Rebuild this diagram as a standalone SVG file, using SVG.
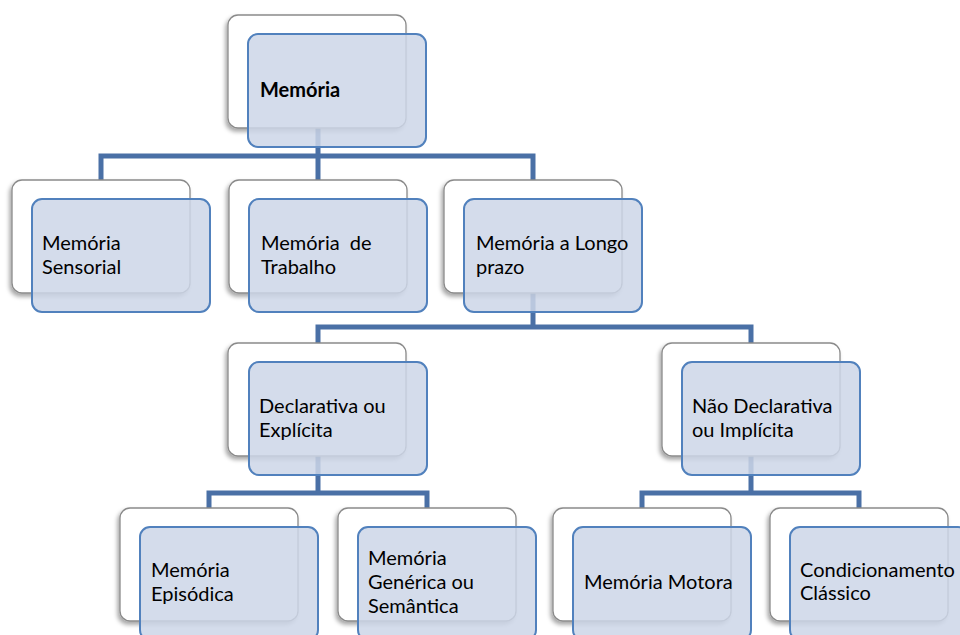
<svg xmlns="http://www.w3.org/2000/svg" width="960" height="635" viewBox="0 0 960 635">
<defs>
<filter id="sh" x="-10%" y="-10%" width="120%" height="130%">
<feDropShadow dx="-2" dy="3" stdDeviation="2" flood-color="#000" flood-opacity="0.35"/>
</filter>
<style>
.back{fill:#ffffff;stroke:#8a8a8a;stroke-width:1.3;filter:url(#sh)}
.front{fill:#cdd6e8;fill-opacity:0.85;stroke:#5181bd;stroke-width:2}
.conn{fill:none;stroke:#4a70a6;stroke-width:5;stroke-linejoin:miter}
text{font-family:Lato,"Liberation Sans",sans-serif;font-size:20px;fill:#000}
.b{font-weight:bold}
</style>
</defs>
<rect width="960" height="635" fill="#ffffff"/>
<g id="connectors" class="conn">
<path d="M318,128 V156 M101,180 V156 H533 V180 M318,156 V180"/>
<path d="M533,293 V327 M318,343 V327 H751 V343"/>
<path d="M318,456 V493 M209,508 V493 H427 V508"/>
<path d="M751,456 V493 M642,508 V493 H859 V508"/>
</g>
<g id="n0">
<rect class="back" x="228" y="15" width="178" height="113" rx="10"/>
<rect class="front" x="248" y="34" width="178" height="113" rx="10"/>
<text class="b" x="260" y="97">Memória</text>
</g>
<g id="n1">
<rect class="back" x="12" y="180" width="178" height="113" rx="10"/>
<rect class="front" x="32" y="199" width="178" height="113" rx="10"/>
<text x="42" y="250">Memória</text>
<text x="42" y="274">Sensorial</text>
</g>
<g id="n2">
<rect class="back" x="229" y="180" width="178" height="113" rx="10"/>
<rect class="front" x="249" y="199" width="178" height="113" rx="10"/>
<text x="261" y="250" xml:space="preserve">Memória  de</text>
<text x="261" y="274">Trabalho</text>
</g>
<g id="n3">
<rect class="back" x="444" y="180" width="178" height="113" rx="10"/>
<rect class="front" x="464" y="199" width="178" height="113" rx="10"/>
<text x="476" y="250">Memória a Longo</text>
<text x="476" y="274">prazo</text>
</g>
<g id="n4">
<rect class="back" x="228" y="343" width="178" height="113" rx="10"/>
<rect class="front" x="249" y="362" width="178" height="113" rx="10"/>
<text x="259" y="413">Declarativa ou</text>
<text x="259" y="437">Explícita</text>
</g>
<g id="n5">
<rect class="back" x="662" y="343" width="178" height="113" rx="10"/>
<rect class="front" x="682" y="362" width="178" height="113" rx="10"/>
<text x="692" y="413">Não Declarativa</text>
<text x="692" y="437">ou Implícita</text>
</g>
<g id="n6">
<rect class="back" x="120" y="508" width="178" height="113" rx="10"/>
<rect class="front" x="140" y="527" width="178" height="113" rx="10"/>
<text x="151" y="577">Memória</text>
<text x="151" y="601">Episódica</text>
</g>
<g id="n7">
<rect class="back" x="338" y="508" width="178" height="113" rx="10"/>
<rect class="front" x="358" y="527" width="178" height="113" rx="10"/>
<text x="368" y="565">Memória</text>
<text x="368" y="589">Genérica ou</text>
<text x="368" y="613">Semântica</text>
</g>
<g id="n8">
<rect class="back" x="553" y="508" width="178" height="113" rx="10"/>
<rect class="front" x="573" y="527" width="178" height="113" rx="10"/>
<text x="584" y="589">Memória Motora</text>
</g>
<g id="n9">
<rect class="back" x="770" y="508" width="178" height="113" rx="10"/>
<rect class="front" x="790" y="527" width="178" height="113" rx="10"/>
<text x="800" y="577">Condicionamento</text>
<text x="800" y="600">Clássico</text>
</g>
</svg>
